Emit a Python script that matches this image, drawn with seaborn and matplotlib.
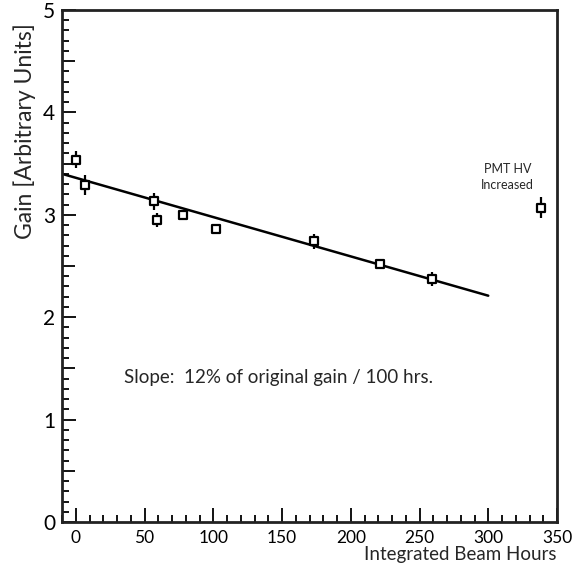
import matplotlib
matplotlib.use("Agg")
import matplotlib.pyplot as plt
from matplotlib.ticker import MultipleLocator
import seaborn as sns
import pandas as pd

# Data
hours = [0, 7, 57, 59, 78, 102, 173, 221, 259]
gain = [3.54, 3.29, 3.13, 2.95, 3.00, 2.86, 2.74, 2.52, 2.37]
gain_err = [0.085, 0.095, 0.08, 0.065, 0.05, 0.04, 0.07, 0.02, 0.07]

hv_hours = [338]
hv_gain = [3.07]
hv_err = [0.105]

fit_hours = [-10, 300]
fit_gain = [3.40, 2.21]

sns.set_style("ticks")
plt.rcParams['font.family'] = ['Lato', 'DejaVu Sans']

fig = plt.figure(figsize=(5.74, 5.63), dpi=100)
ax = fig.add_axes([62/574, 1-522/563, (557-62)/574, (522-10)/563])

df = pd.DataFrame({"hours": hours + hv_hours, "gain": gain + hv_gain,
                   "err": gain_err + hv_err})

sns.lineplot(x=fit_hours, y=fit_gain, ax=ax, color='black', lw=1.8, zorder=2)
ax.errorbar(df["hours"], df["gain"], yerr=df["err"], fmt='none',
            ecolor='black', elinewidth=1.6, capsize=0, zorder=3)
sns.scatterplot(data=df, x="hours", y="gain", ax=ax, marker='s', s=40,
                facecolor='white', edgecolor='black', linewidth=1.6, zorder=4)

ax.set_xlim(-10, 350)
ax.set_ylim(0, 5)
ax.xaxis.set_major_locator(MultipleLocator(50))
ax.xaxis.set_minor_locator(MultipleLocator(10))
ax.yaxis.set_major_locator(MultipleLocator(1))
ax.yaxis.set_minor_locator(MultipleLocator(0.1))

ax.tick_params(which='both', direction='in', top=False, right=False,
               colors='black', width=1.3)
ax.tick_params(which='major', length=10)
ax.tick_params(which='minor', length=5)
ax.tick_params(axis='x', which='major', labelsize=12.5, pad=6)
ax.tick_params(axis='y', which='major', labelsize=15, pad=5)

# medium-length ticks at the half units of the y axis
fig.canvas.draw()
for loc, tick in zip(ax.yaxis.get_minorticklocs(), ax.yaxis.get_minor_ticks()):
    if abs((loc * 2) - round(loc * 2)) < 1e-6:
        tick.tick1line.set_markersize(9)

for sp in ax.spines.values():
    sp.set_visible(True)
    sp.set_linewidth(2.0)
    sp.set_color('#222222')

ax.set_xlabel("Integrated Beam Hours", fontsize=13.5, loc='right', labelpad=0)
ax.set_ylabel("Gain [Arbitrary Units]", fontsize=16.5, loc='top', labelpad=4)
ax.yaxis.set_label_coords(-0.053, 0.974)

ax.text(35, 1.41, "Slope:  12% of original gain / 100 hrs.", fontsize=13.5,
        va='center', ha='left')
ax.text(314, 3.37, "PMT HV\nIncreased", fontsize=9, ha='center', va='center',
        linespacing=1.35)

fig.savefig("out.png", dpi=100)
